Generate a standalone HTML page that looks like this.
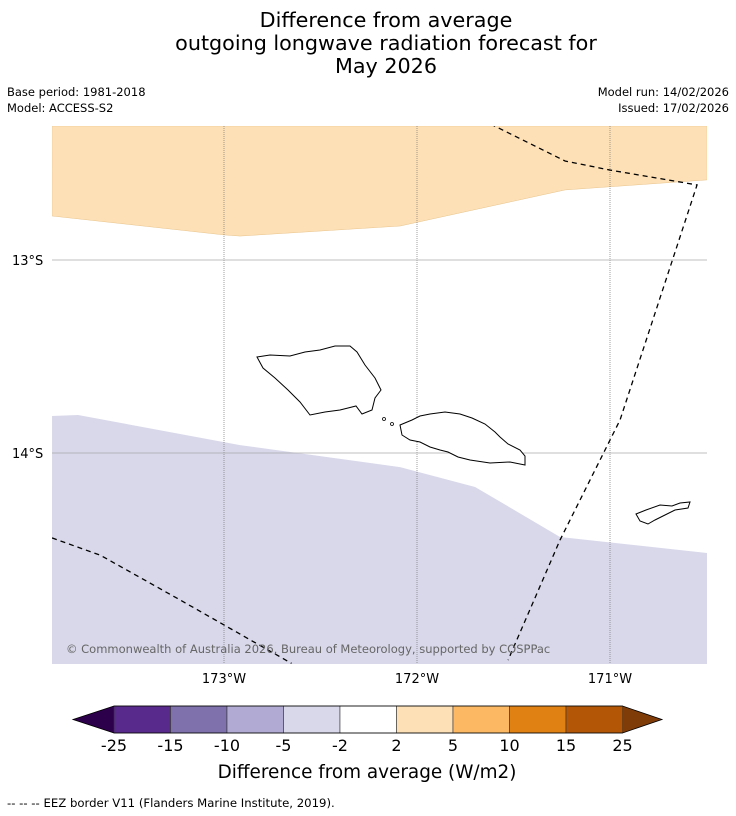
<!DOCTYPE html>
<html><head><meta charset="utf-8"><style>
body{margin:0;background:#fff;font-family:"Liberation Sans","DejaVu Sans",sans-serif;}
svg{display:block}
</style></head><body>
<svg width="736" height="816" xmlns="http://www.w3.org/2000/svg">
<g font-family="DejaVu Sans, Liberation Sans, sans-serif" text-anchor="middle" font-size="20.7" fill="#000">
<text x="386" y="27">Difference from average</text>
<text x="386" y="50">outgoing longwave radiation forecast for</text>
<text x="386" y="73">May 2026</text>
</g>
<g font-family="DejaVu Sans, Liberation Sans, sans-serif" font-size="11.5">
<text x="7" y="96">Base period: 1981-2018</text>
<text x="7" y="112">Model: ACCESS-S2</text>
<text x="729" y="96" text-anchor="end">Model run: 14/02/2026</text>
<text x="729" y="112" text-anchor="end">Issued: 17/02/2026</text>
</g>
<defs><clipPath id="mc"><rect x="52" y="126" width="655" height="538"/></clipPath></defs>
<g id="map" clip-path="url(#mc)"></g>
<g id="axes"></g>
<g id="cbar"></g>
<text x="367" y="778" text-anchor="middle" font-size="18.4" font-family="DejaVu Sans, Liberation Sans, sans-serif">Difference from average (W/m2)</text>
<text x="7" y="807" font-size="11.7" font-family="DejaVu Sans, Liberation Sans, sans-serif">--  --  -- EEZ border V11 (Flanders Marine Institute, 2019).</text>
</svg>
<script>
const lonTicks=[-173,-172,-171];
const lonTickLabels=["173°W","172°W","171°W"];
const latTicks=[-13,-14];
const latTickLabels=["13°S","14°S"];
const posLon=[-173.891,-173.0,-172.917,-172.088,-171.233,-170.497];
const posLat=[-12.772,-12.870,-12.876,-12.824,-12.637,-12.585];
const negLon=[-173.891,-173.756,-172.917,-172.088,-171.699,-171.259,-170.497];
const negLat=[-13.808,-13.803,-13.959,-14.073,-14.176,-14.435,-14.518];
const eez1Lon=[-171.66,-171.233,-171.0,-170.549,-170.948,-171.259,-171.528];
const eez1Lat=[-12.275,-12.487,-12.534,-12.611,-13.829,-14.451,-15.073];
const eez2Lon=[-173.891,-173.64,-173.23,-172.65];
const eez2Lat=[-14.44,-14.53,-14.76,-15.09];
const cbBounds=["-25","-15","-10","-5","-2","2","5","10","15","25"];
const cbColors=["#582a8b","#7f71ab","#b1aad2","#d8d8ea","#ffffff","#fde0b6","#fcb862","#e08114","#b35706"];
const NS="http://www.w3.org/2000/svg";
const X=lon=>224+(lon+173)*193;
const Y=lat=>260+(-13-lat)*193;
function el(t,a,p){const e=document.createElementNS(NS,t);for(const k in a)e.setAttribute(k,a[k]);p.appendChild(e);return e;}
const map=document.getElementById('map'),axes=document.getElementById('axes'),cb=document.getElementById('cbar');
let d="M52,126 ";posLon.forEach((l,i)=>d+="L"+X(l)+","+Y(posLat[i])+" ");d+="L707,126Z";
let p=el('path',{d:d,fill:'#fde0b6',stroke:'#e8c48c','stroke-width':0.5},map);


d="M52,664 ";negLon.forEach((l,i)=>d+="L"+X(l)+","+Y(negLat[i])+" ");d+="L707,664Z";
p=el('path',{d:d,fill:'#d8d8ea'},map);


lonTicks.forEach((l,i)=>{const x=X(l);
 let g=el('line',{x1:x,x2:x,y1:126,y2:664,stroke:'#777','stroke-width':0.7,'stroke-dasharray':'1,1'},map);
 
 
 let t=el('text',{x:x,y:683,'text-anchor':'middle','font-size':13,'font-family':'DejaVu Sans, sans-serif'},axes);t.textContent=lonTickLabels[i];
 
 });
latTicks.forEach((l,i)=>{const y=Y(l);
 let g=el('line',{x1:52,x2:707,y1:y,y2:y,stroke:'#aaa','stroke-width':0.8},map);
 
 
 let t=el('text',{x:12,y:y+5,'font-size':13,'font-family':'DejaVu Sans, sans-serif'},axes);t.textContent=latTickLabels[i];
 
 });
[[eez1Lon,eez1Lat],[eez2Lon,eez2Lat]].forEach(([a,b])=>{
 let s="";a.forEach((l,i)=>s+=(i?"L":"M")+X(l)+","+Y(b[i])+" ");
 let e=el('path',{d:s,fill:'none',stroke:'#000','stroke-width':1.3,'stroke-dasharray':'5,4'},map);
 
 });
const isl=[
"M257,357 L270,355 L290,356 L305,352 L320,350 L335,346 L350,346 L357,352 L365,365 L375,378 L381,390 L375,398 L372,410 L362,414 L356,406 L348,408 L340,410 L325,412 L310,415 L300,402 L288,390 L275,378 L263,368Z",
"M400,425 L412,420 L420,416 L430,414 L445,412 L460,414 L472,418 L485,424 L495,432 L500,437 L508,444 L520,450 L525,456 L525,465 L510,462 L490,463 L470,460 L458,457 L448,452 L440,450 L430,447 L420,442 L410,440 L402,435Z",
"M636,514 L646,510 L660,505 L672,506 L680,503 L690,502 L688,508 L675,510 L665,515 L655,520 L648,524 L640,521Z"];
isl.forEach(s=>{let e=el('path',{d:s,fill:'#fff',stroke:'#000','stroke-width':1},map);
 
 });
[[384,419],[392,424]].forEach(c=>{let e=el('circle',{cx:c[0],cy:c[1],r:1.5,fill:'none',stroke:'#000','stroke-width':0.8},map);
 
 });
let cr=el('text',{x:66,y:653,'font-size':11.5,fill:'#666','font-family':'DejaVu Sans, sans-serif'},map);cr.textContent="© Commonwealth of Australia 2026, Bureau of Meteorology, supported by COSPPac";


const cx0=114,cw=56.5,cy=706,ch=27;
let a=el('path',{d:`M73,${cy+ch/2} L${cx0},${cy} L${cx0},${cy+ch}Z`,fill:'#2d004b'},cb);


cbColors.forEach((c,i)=>{let r=el('rect',{x:cx0+i*cw,y:cy,width:cw,height:ch,fill:c,stroke:'#333','stroke-width':0.6},cb);
 
 });
const xe=cx0+cbColors.length*cw;
a=el('path',{d:`M${xe},${cy} L662,${cy+ch/2} L${xe},${cy+ch}Z`,fill:'#7f3b08'},cb);


el('path',{d:`M73,${cy+ch/2} L${cx0},${cy} L${xe},${cy} L662,${cy+ch/2} L${xe},${cy+ch} L${cx0},${cy+ch}Z`,fill:'none',stroke:'#000','stroke-width':0.8},cb);
cbBounds.forEach((b,i)=>{let t=el('text',{x:cx0+i*cw,y:751,'text-anchor':'middle','font-size':16,'font-family':'DejaVu Sans, sans-serif'},cb);t.textContent=b;
 
 });
</script>
</body></html>
